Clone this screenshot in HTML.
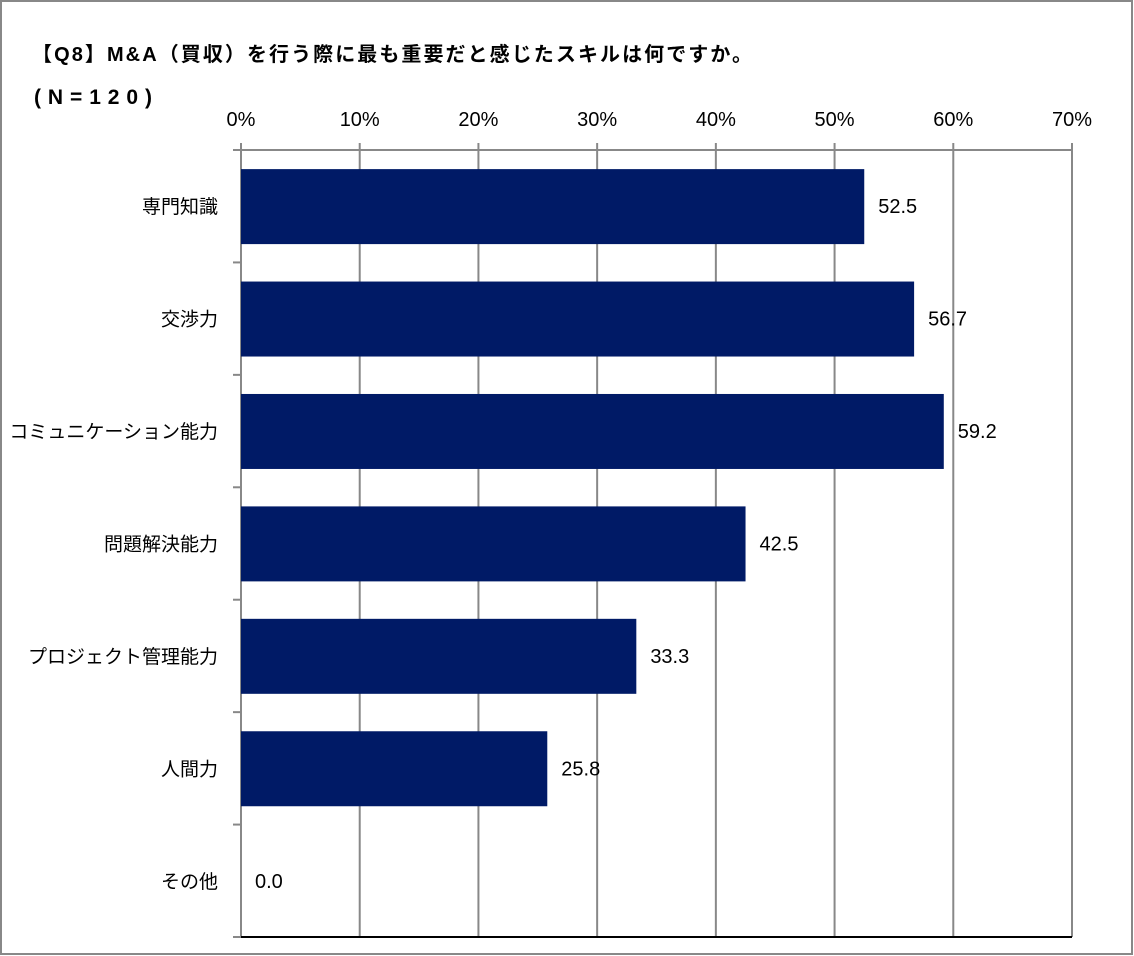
<!DOCTYPE html>
<html><head><meta charset="utf-8"><style>
body{margin:0;background:#fff}
svg{display:block;font-family:"Liberation Sans","Noto Sans CJK JP",sans-serif}
</style></head><body>
<svg id="chart" width="1134" height="956" viewBox="0 0 1134 956" xmlns="http://www.w3.org/2000/svg">
<rect x="1" y="1" width="1131" height="953" fill="#fff" stroke="#888" stroke-width="2"/>
<text x="32" y="61" font-size="20" font-weight="bold" fill="#000" textLength="720" lengthAdjust="spacing">【Q8】M&amp;A（買収）を行う際に最も重要だと感じたスキルは何ですか。</text>
<text x="34" y="104" font-size="21" font-weight="bold" fill="#000" textLength="118" lengthAdjust="spacing">(N=120)</text>
<g id="grid"></g><g id="bars"></g><g id="labels"></g>
</svg>
<script>
const categories=["専門知識","交渉力","コミュニケーション能力","問題解決能力","プロジェクト管理能力","人間力","その他"];
const values=[52.5,56.7,59.2,42.5,33.3,25.8,0.0];
const ticks=[0,10,20,30,40,50,60,70];
const tickLabels=["0%","10%","20%","30%","40%","50%","60%","70%"];
const X0=241,X1=1072,Y0=150,Y1=937,XMAX=70;
const xs=v=>X0+(X1-X0)*v/XMAX;
const band=(Y1-Y0)/categories.length;
const ys=i=>Y0+band*i;
const NS="http://www.w3.org/2000/svg";
function mk(tag,attrs,parent,text){const e=document.createElementNS(NS,tag);for(const k in attrs)e.setAttribute(k,attrs[k]);if(text!=null)e.textContent=text;document.getElementById(parent).appendChild(e);return e;}
ticks.forEach((t,i)=>{
  const g=mk("line",{x1:xs(t),x2:xs(t),y1:143,y2:Y1,stroke:"#888","stroke-width":2},"grid");
  
  
  const l=mk("text",{x:xs(t),y:126,"font-size":20,"text-anchor":"middle",fill:"#000"},"grid",tickLabels[i]);
  
  
});
const topLine=mk("line",{x1:233,x2:X1,y1:Y0,y2:Y0,stroke:"#888","stroke-width":2},"grid");


for(let i=0;i<=categories.length;i++){
  const t=mk("line",{x1:233,x2:X0,y1:ys(i),y2:ys(i),stroke:"#888","stroke-width":2},"grid");
  
  
}
const ax=mk("line",{x1:X0,x2:X1,y1:Y1,y2:Y1,stroke:"#000","stroke-width":2},"grid");


categories.forEach((c,i)=>{
  const by=ys(i)+band*0.17,bh=band*0.667;
  const r=mk("rect",{x:X0,y:by,width:xs(values[i])-X0,height:bh,fill:"#001a66"},"bars");
  
  
  const cy=ys(i)+band/2+7;
  const cl=mk("text",{x:218,y:cy,"font-size":19,"text-anchor":"end",fill:"#000"},"labels",c);
  
  
  const vl=mk("text",{x:xs(values[i])+14,y:cy,"font-size":20,fill:"#000"},"labels",values[i].toFixed(1));
  
  
});
</script>
</body></html>
